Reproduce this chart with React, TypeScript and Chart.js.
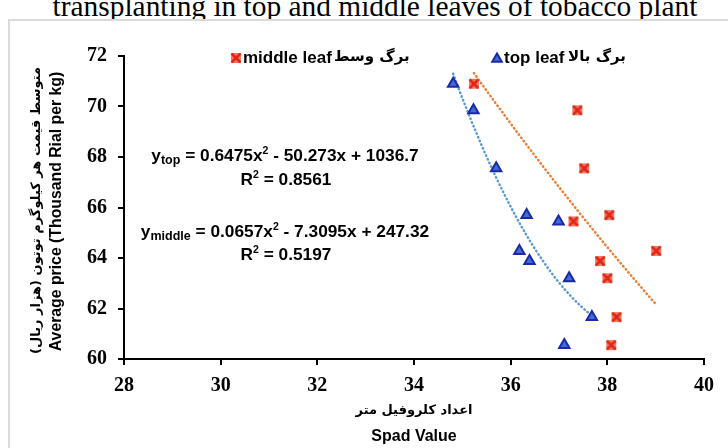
import { useEffect, useRef } from "react";
import { Chart, registerables } from "chart.js";

Chart.register(...registerables);

// Average price per sample (thousand rial per kg); each sample has a top- and a middle-leaf SPAD reading
const avgPrice = [70.9, 69.85, 67.55, 65.7, 65.45, 64.28, 63.88, 63.2, 61.66, 60.55];
const topLeafSpad = [34.81, 35.23, 35.7, 36.33, 36.99, 36.18, 36.39, 37.21, 37.68, 37.11];
const middleLeafSpad = [35.24, 37.38, 37.52, 38.04, 37.3, 39.01, 37.85, 38.0, 38.19, 38.08];

// Polynomial trend coefficients [a, b, c] for y = a x^2 + b x + c
const topFit = [0.6475, -50.273, 1036.7];
const middleFit = [0.0657, -7.3095, 247.32];
const topR2 = "0.8561";
const middleR2 = "0.5197";

const xTicks = [28, 30, 32, 34, 36, 38, 40];
const yTicks = [60, 62, 64, 66, 68, 70, 72];

const titleText = "transplanting in top and middle leaves of tobacco plant";
const yTitleFa = "متوسط قیمت هر کیلوگرم توتون (هزار ریال)";
const yTitleEn = "Average price (Thousand Rial per kg)";
const xTitleFa = "اعداد کلروفیل متر";
const xTitleEn = "Spad Value";
const middleLabelEn = "middle leaf";
const middleLabelFa = "برگ وسط";
const topLabelEn = "top leaf";
const topLabelFa = "برگ بالا";

const SANS = "'Liberation Sans', Arial, sans-serif";
const FA = "'DejaVu Sans', sans-serif";
const EQ = 17.3;

function fitCurve(coef: number[], xs: number[]) {
  const lo = Math.min(...xs);
  const hi = Math.max(...xs);
  const pts: { x: number; y: number }[] = [];
  const n = 48;
  for (let i = 0; i <= n; i++) {
    const x = lo + ((hi - lo) * i) / n;
    pts.push({ x, y: coef[0] * x * x + coef[1] * x + coef[2] });
  }
  return pts;
}

function fmt(v: number) {
  return Math.abs(v).toString();
}

function makeCrossMarker() {
  const c = document.createElement("canvas");
  c.width = 12;
  c.height = 12;
  const g = c.getContext("2d")!;
  g.fillStyle = "#f27a5c";
  g.fillRect(1, 1, 10, 10);
  g.strokeStyle = "#e0261c";
  g.lineWidth = 2.6;
  g.lineCap = "square";
  g.beginPath();
  g.moveTo(2.5, 2.5);
  g.lineTo(9.5, 9.5);
  g.moveTo(9.5, 2.5);
  g.lineTo(2.5, 9.5);
  g.stroke();
  return c;
}

type Seg = { t: string; s: number; dy?: number };

function segsWidth(ctx: CanvasRenderingContext2D, segs: Seg[]) {
  let total = 0;
  for (const sg of segs) {
    ctx.font = `bold ${sg.s}px ${SANS}`;
    total += ctx.measureText(sg.t).width;
  }
  return total;
}

// draws a run of differently sized pieces, centred on cx
function drawSegs(ctx: CanvasRenderingContext2D, segs: Seg[], cx: number, y: number) {
  let x = cx - segsWidth(ctx, segs) / 2;
  ctx.textAlign = "left";
  ctx.textBaseline = "alphabetic";
  for (const sg of segs) {
    ctx.font = `bold ${sg.s}px ${SANS}`;
    ctx.fillText(sg.t, x, y + (sg.dy || 0));
    x += ctx.measureText(sg.t).width;
  }
}

function equationSegs(sub: string, coef: number[]): Seg[] {
  return [
    { t: "y", s: EQ },
    { t: sub, s: 12.5, dy: 3 },
    { t: " = " + fmt(coef[0]) + "x", s: EQ },
    { t: "2", s: 10.5, dy: -7 },
    { t: " - " + fmt(coef[1]) + "x + " + fmt(coef[2]), s: EQ },
  ];
}

function r2Segs(r2: string): Seg[] {
  return [{ t: "R", s: EQ }, { t: "2", s: 10.5, dy: -7 }, { t: " = " + r2, s: EQ }];
}

function drawTriangle(ctx: CanvasRenderingContext2D, x: number, y: number, r: number) {
  ctx.beginPath();
  ctx.moveTo(x, y - r);
  ctx.lineTo(x + r * 0.866, y + r * 0.5);
  ctx.lineTo(x - r * 0.866, y + r * 0.5);
  ctx.closePath();
  ctx.fillStyle = "#4169d8";
  ctx.fill();
  ctx.lineWidth = 2;
  ctx.strokeStyle = "#1a2aa6";
  ctx.stroke();
}

export default function App() {
  const ref = useRef<HTMLCanvasElement | null>(null);

  useEffect(() => {
    if (!ref.current) return;
    const cross = makeCrossMarker();

    const annotations = {
      id: "annotations",
      afterDraw(chart: any) {
        const ctx: CanvasRenderingContext2D = chart.ctx;
        const area = chart.chartArea;
        const midX = (area.left + area.right) / 2;
        const midY = (area.top + area.bottom) / 2;
        ctx.save();
        ctx.fillStyle = "#000";

        // axis titles
        ctx.textAlign = "center";
        ctx.textBaseline = "middle";
        ctx.save();
        ctx.translate(37, midY + 3);
        ctx.rotate(-Math.PI / 2);
        ctx.font = `bold 13px ${FA}`;
        ctx.fillText(yTitleFa, 0, 0);
        ctx.restore();
        ctx.save();
        ctx.translate(57, midY + 4);
        ctx.rotate(-Math.PI / 2);
        ctx.font = `bold 15.8px ${SANS}`;
        ctx.fillText(yTitleEn, 0, 0);
        ctx.restore();
        ctx.font = `bold 13px ${FA}`;
        ctx.fillText(xTitleFa, midX, 411);
        ctx.font = `bold 16px ${SANS}`;
        ctx.fillText(xTitleEn, midX, 437);

        // legend
        ctx.drawImage(cross, 230, 52);
        ctx.textAlign = "left";
        ctx.font = `bold 17px ${SANS}`;
        ctx.fillText(middleLabelEn, 243, 58);
        ctx.font = `bold 15px ${FA}`;
        ctx.fillText(middleLabelFa, 334, 57);
        drawTriangle(ctx, 497, 59, 5.5);
        ctx.fillStyle = "#000";
        ctx.font = `bold 17px ${SANS}`;
        ctx.fillText(topLabelEn, 504, 58);
        ctx.font = `bold 15px ${FA}`;
        ctx.fillText(topLabelFa, 568, 57);

        // trend equations
        ctx.fillStyle = "#000";
        drawSegs(ctx, equationSegs("top", topFit), 285, 161);
        drawSegs(ctx, r2Segs(topR2), 286, 185);
        drawSegs(ctx, equationSegs("middle", middleFit), 285, 237);
        drawSegs(ctx, r2Segs(middleR2), 286, 260);
        ctx.restore();
      },
    };

    const tickFont = { family: "'Liberation Serif', 'Times New Roman', serif", size: 20, weight: "bold" as const };

    const chart = new Chart(ref.current, {
      type: "scatter",
      data: {
        datasets: [
          {
            label: topLabelEn,
            data: topLeafSpad.map((x, i) => ({ x, y: avgPrice[i] })),
            pointStyle: "triangle",
            pointRadius: 6,
            pointBackgroundColor: "#4169d8",
            pointBorderColor: "#1a2aa6",
            pointBorderWidth: 2,
          },
          {
            label: middleLabelEn,
            data: middleLeafSpad.map((x, i) => ({ x, y: avgPrice[i] })),
            pointStyle: cross as any,
            pointRadius: 6,
          },
          {
            label: "top trend",
            data: fitCurve(topFit, topLeafSpad),
            showLine: true,
            pointRadius: 0,
            borderColor: "#5b9bd5",
            borderWidth: 2.5,
            borderDash: [0.5, 3.5],
            borderCapStyle: "round",
            tension: 0,
          },
          {
            label: "middle trend",
            data: fitCurve(middleFit, middleLeafSpad),
            showLine: true,
            pointRadius: 0,
            borderColor: "#ed7d31",
            borderWidth: 2.5,
            borderDash: [0.5, 3.5],
            borderCapStyle: "round",
            tension: 0,
          },
        ],
      },
      options: {
        animation: false,
        responsive: false,
        maintainAspectRatio: false,
        layout: { padding: { top: 56, right: 24, left: 64, bottom: 49 } },
        plugins: { legend: { display: false }, tooltip: { enabled: false } },
        scales: {
          x: {
            type: "linear",
            min: 28,
            max: 40,
            afterBuildTicks: (s: any) => {
              s.ticks = xTicks.map((v) => ({ value: v }));
            },
            afterFit: (s: any) => {
              s.height = 40;
            },
            ticks: { font: tickFont, color: "#000", padding: 9 },
            grid: { drawOnChartArea: false, drawTicks: true, tickLength: 6, color: "#000", lineWidth: 2 },
            border: { display: true, color: "#000", width: 2 },
          },
          y: {
            type: "linear",
            min: 60,
            max: 72,
            afterBuildTicks: (s: any) => {
              s.ticks = yTicks.map((v) => ({ value: v }));
            },
            afterFit: (s: any) => {
              s.width = 60;
            },
            ticks: { font: tickFont, color: "#000", padding: 11 },
            grid: { drawOnChartArea: false, drawTicks: true, tickLength: 6, color: "#000", lineWidth: 2 },
            border: { display: true, color: "#000", width: 2 },
          },
        },
      },
      plugins: [annotations],
    });

    return () => chart.destroy();
  }, []);

  return (
    <div
      style={{
        position: "fixed",
        left: 0,
        top: 0,
        width: 728,
        height: 448,
        overflow: "hidden",
        background: "#fff",
      }}
    >
      <div
        style={{
          position: "absolute",
          left: 0,
          top: -8,
          width: 750,
          textAlign: "center",
          fontFamily: "'Liberation Serif', 'Times New Roman', serif",
          fontSize: 29.4,
          lineHeight: "29.4px",
          whiteSpace: "nowrap",
          color: "#000",
        }}
      >
        {titleText}
      </div>
      <div
        style={{
          position: "absolute",
          left: 8,
          top: 19,
          width: 760,
          height: 480,
          border: "2px solid #dadada",
          boxSizing: "border-box",
          background: "#fff",
        }}
      />
      <canvas
        ref={ref}
        width={728}
        height={448}
        style={{ position: "absolute", left: 0, top: 0, display: "block" }}
      />
    </div>
  );
}
